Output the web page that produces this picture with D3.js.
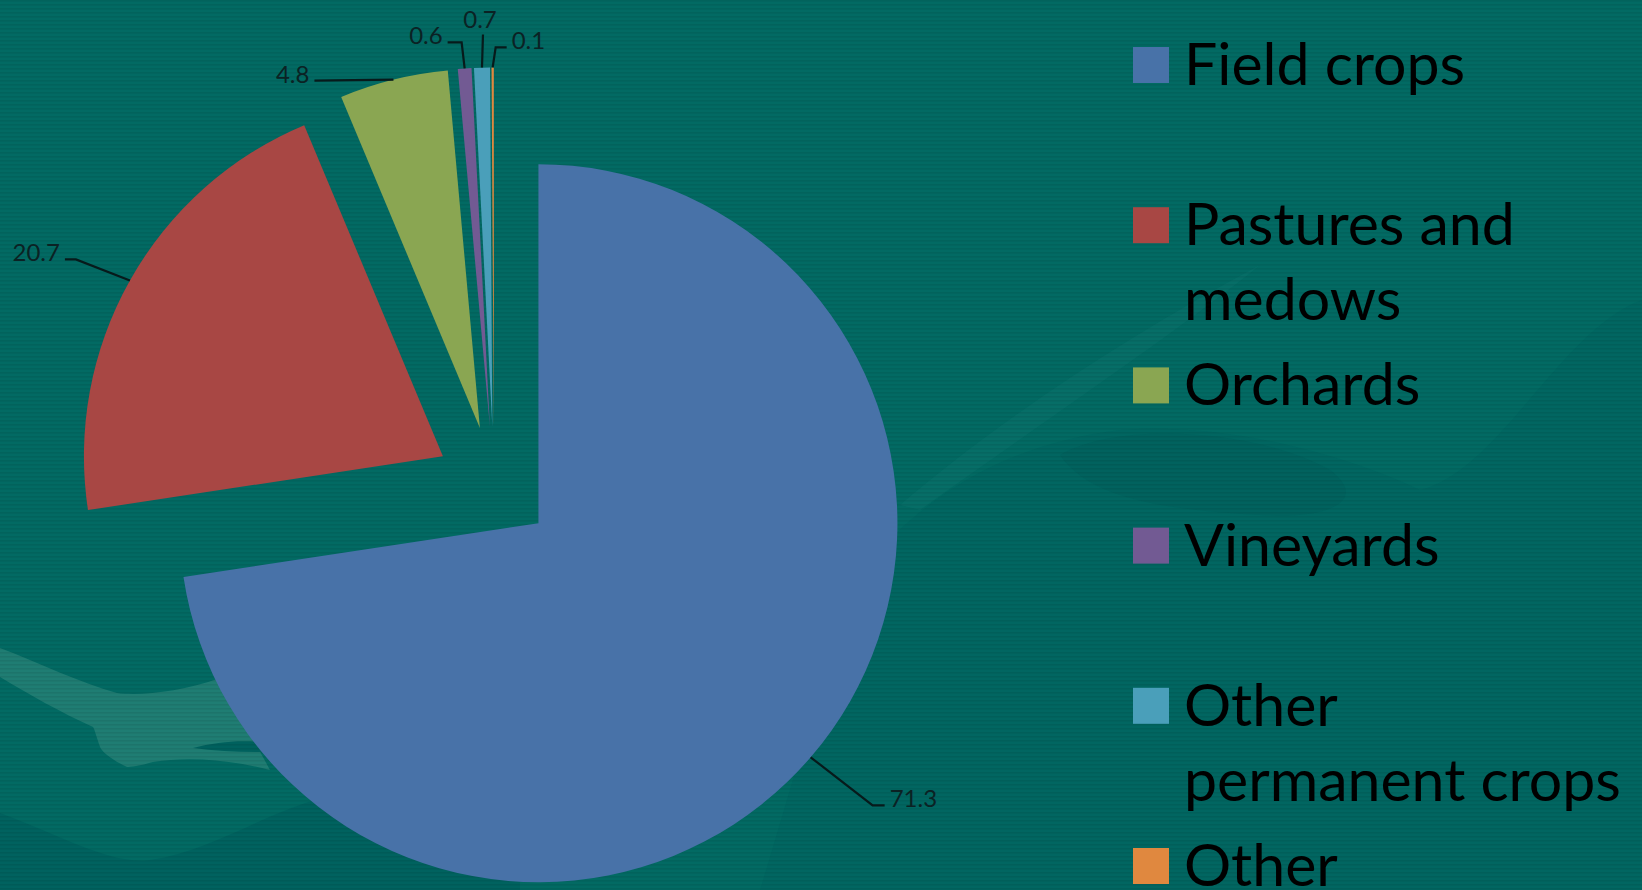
<!DOCTYPE html>
<html>
<head>
<meta charset="utf-8">
<script src="https://cdn.jsdelivr.net/npm/d3@7"></script>
<style>
  html, body { margin: 0; padding: 0; background: #026a63; overflow: hidden; }
  svg { display: block; font-family: Lato, "Noto Sans", sans-serif; }
</style>
</head>
<body>
<div id="chart"></div>
<script>
// land use shares (%)
const categories = ["Field crops", "Pastures and medows", "Orchards", "Vineyards", "Other permanent crops", "Other"];
const values = [71.3, 20.7, 4.8, 0.6, 0.7, 0.1];
const legendLines = [["Field crops"], ["Pastures and", "medows"], ["Orchards"], ["Vineyards"], ["Other", "permanent crops"], ["Other"]];
const colors = ["#4872a8", "#a84744", "#8aa652", "#725a93", "#4a9fba", "#e0883f"];

const width = 1642, height = 890;
const cx = 494, cy = 485, radius = 359, explode = 58.6;

// leader line nudges for each data label: elbow offset from the arc edge, then a short tail
const labelLayout = [
  {dx: 62, dy: 48, tail: 12, anchor: "start"},
  {dx: -54, dy: -21, tail: -11, anchor: "end"},
  {dx: -79, dy: 1, tail: 0, anchor: "end"},
  {dx: -3, dy: -26, tail: -14, anchor: "end"},
  {dx: 1, dy: -33, tail: 0, anchor: "middle"},
  {dx: 3, dy: -20, tail: 11, anchor: "start"}
];

const svg = d3.select("#chart")
  .append("svg")
  .attr("width", width)
  .attr("height", height);

// background with faint scan lines and soft shapes
const defs = svg.append("defs");
const pat = defs.append("pattern")
  .attr("id", "lines")
  .attr("width", 8).attr("height", 4)
  .attr("patternUnits", "userSpaceOnUse");
pat.append("rect").attr("width", 8).attr("height", 1.6).attr("fill", "rgba(0,0,0,0.07)");

svg.append("rect").attr("width", width).attr("height", height).attr("fill", "#026a63");

const bg = svg.append("g");
bg.append("path")
  .attr("d", "M0,813 C60,835 110,865 150,860 C220,850 280,800 360,790 L520,800 L520,890 L0,890 Z")
  .attr("fill", "#00625f");
bg.append("path")
  .attr("d", "M870,560 C950,470 1040,440 1120,430 C1250,420 1380,470 1420,490 C1500,470 1560,330 1642,300 L1642,890 L760,890 C800,760 830,640 870,560 Z")
  .attr("fill", "#016661");
bg.append("path")
  .attr("d", "M1060,455 C1120,420 1260,430 1330,470 C1370,500 1330,520 1260,515 C1170,510 1090,500 1060,455 Z")
  .attr("fill", "#01625e");
bg.append("path")
  .attr("d", "M900,505 C1000,420 1120,340 1260,265 C1180,330 1060,410 920,510 Z")
  .attr("fill", "#12776f").attr("opacity", 0.3);
bg.append("path")
  .attr("d", "M0,648 C40,663 80,683 117,693 C140,696 180,692 220,678 L270,770 C230,760 190,756 153,762 C140,766 130,767 127,767 C112,760 102,752 100,747 C96,735 94,728 93,727 C60,712 30,695 0,677 Z")
  .attr("fill", "#1f7d73");
bg.append("path")
  .attr("d", "M193,748 C215,742 240,740 260,742 L262,752 C240,752 215,751 193,748 Z")
  .attr("fill", "#00615e");

svg.append("rect").attr("width", width).attr("height", height).attr("fill", "url(#lines)");

// pie
const pie = d3.pie().sort(null).value(d => d);
const arcs = pie(values);
const arc = d3.arc().innerRadius(0).outerRadius(radius);

const shift = d => {
  const a = (d.startAngle + d.endAngle) / 2;
  return [Math.sin(a) * explode, -Math.cos(a) * explode];
};

const g = svg.append("g").attr("transform", `translate(${cx},${cy})`);

g.selectAll(".slice")
  .data(arcs)
  .enter().append("path")
  .attr("class", "slice")
  .attr("transform", d => `translate(${shift(d)})`)
  .attr("d", arc)
  .attr("fill", (d, i) => colors[i]);

// data labels with leader lines
const labels = g.selectAll(".label")
  .data(arcs)
  .enter().append("g")
  .attr("class", "label");

labels.each(function(d, i) {
  const a = (d.startAngle + d.endAngle) / 2;
  const [sx, sy] = shift(d);
  const p0 = [sx + Math.sin(a) * radius, sy - Math.cos(a) * radius];
  const L = labelLayout[i];
  const p1 = [p0[0] + L.dx, p0[1] + L.dy];
  const p2 = [p1[0] + L.tail, p1[1]];
  const sel = d3.select(this);
  sel.append("path")
    .attr("d", d3.line()([p0, p1, p2]))
    .attr("fill", "none")
    .attr("stroke", "#071a1b")
    .attr("stroke-width", 2.2);
  const t = sel.append("text")
    .attr("text-anchor", L.anchor)
    .attr("font-size", 24)
    .attr("fill", "#0b2224")
    .text(d.data);
  if (L.anchor === "middle") {
    t.attr("x", p2[0] - 3).attr("y", p2[1] - 7);
  } else {
    t.attr("x", p2[0] + (L.anchor === "start" ? 5 : -5)).attr("y", p2[1] + 2);
  }
});

// legend
const ly = d3.scalePoint().domain(categories).range([65, 866]);

const legend = svg.append("g").selectAll(".legend")
  .data(categories)
  .enter().append("g")
  .attr("class", "legend")
  .attr("transform", d => `translate(1133,${ly(d)})`);

legend.append("rect")
  .attr("x", 0).attr("y", -18)
  .attr("width", 36).attr("height", 36)
  .attr("fill", (d, i) => colors[i]);

legend.append("text")
  .attr("x", 51)
  .attr("y", 20)
  .attr("font-size", 59)
  .attr("fill", "#000")
  .selectAll("tspan")
  .data((d, i) => legendLines[i])
  .enter().append("tspan")
  .attr("x", 51)
  .attr("dy", (d, j) => j === 0 ? 0 : 75)
  .text(d => d);
</script>
</body>
</html>
